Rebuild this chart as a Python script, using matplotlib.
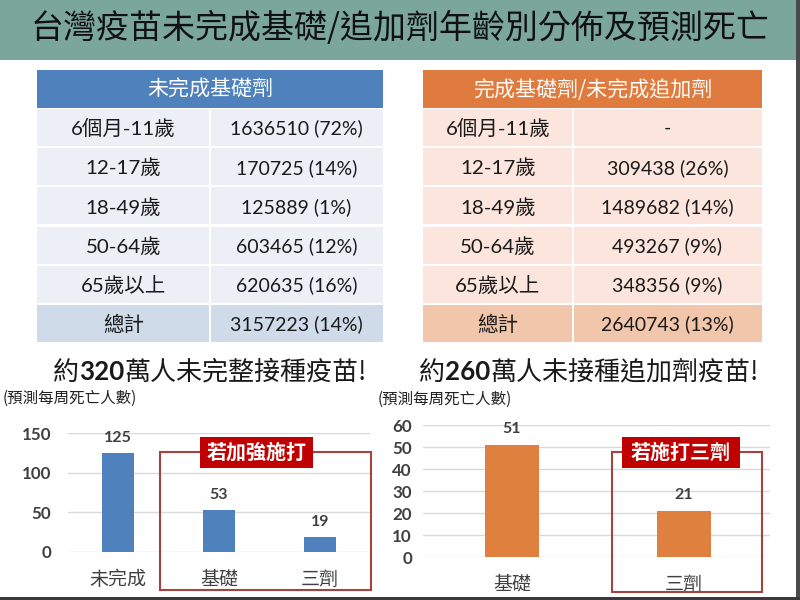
import matplotlib
matplotlib.use("Agg")
import matplotlib.pyplot as plt
from matplotlib.patches import Rectangle

CJK = 'Noto Sans CJK TC'
LAT = ['Lato', CJK]
plt.rcParams['font.family'] = [CJK, 'DejaVu Sans']

# ---------------- data ----------------
title = '台灣疫苗未完成基礎/追加劑年齡別分佈及預測死亡'
age_groups = ['6個月-11歲', '12-17歲', '18-49歲', '50-64歲', '65歲以上']
total_label = '總計'

left_header = '未完成基礎劑'
left_counts = [1636510, 170725, 125889, 603465, 620635]
left_pcts = [72, 14, 1, 12, 16]
left_total = 3157223
left_total_pct = 14

right_header = '完成基礎劑/未完成追加劑'
right_counts = [None, 309438, 1489682, 493267, 348356]
right_pcts = [None, 26, 14, 9, 9]
right_total = 2640743
right_total_pct = 13

left_sub = ('約', '320', '萬人未完整接種疫苗!')
right_sub = ('約', '260', '萬人未接種追加劑疫苗!')
ylabel_note = '(預測每周死亡人數)'

left_cats = ['未完成', '基礎', '三劑']
left_vals = [125, 53, 19]
left_ticks = [0, 50, 100, 150]
left_box_label = '若加強施打'

right_cats = ['基礎', '三劑']
right_vals = [51, 21]
right_ticks = [0, 10, 20, 30, 40, 50, 60]
right_box_label = '若施打三劑'

# ---------------- figure ----------------
fig = plt.figure(figsize=(8, 6), dpi=100)
fig.patch.set_facecolor('white')

bg = fig.add_axes([0, 0, 1, 1], zorder=0)
bg.set_xlim(0, 800); bg.set_ylim(600, 0); bg.axis('off')

def pt(px):
    return px * 0.72

# title band
bg.add_patch(Rectangle((0, 0), 796, 60, facecolor='#7ba79b', edgecolor='none'))
bg.text(400, 29, title, ha='center', va='center', fontsize=pt(33), color='#111111',
        fontweight='medium')

# frame edges
bg.add_patch(Rectangle((796, 0), 4, 600, facecolor='#4a4a4a', edgecolor='none'))
bg.add_patch(Rectangle((0, 597), 800, 3, facecolor='#3a3a3a', edgecolor='none'))

def fmt(c, p):
    if c is None:
        return '-'
    return f'{c} ({p}%)'

def draw_table(x0, xm, x1, hdr, counts, pcts, tot, totp, hcol, rcol, tcol):
    top, hb = 70, 108
    rh = (343 - hb) / 6
    bg.add_patch(Rectangle((x0, top), x1 - x0, hb - top, facecolor=hcol, edgecolor='none'))
    bg.text((x0 + x1) / 2, (top + hb) / 2 + 1, hdr, ha='center', va='center',
            fontsize=pt(21), color='white')
    rows = list(zip(age_groups, [fmt(c, p) for c, p in zip(counts, pcts)]))
    rows.append((total_label, fmt(tot, totp)))
    for i, (a, v) in enumerate(rows):
        y = hb + i * rh
        col = tcol if i == len(rows) - 1 else rcol
        bg.add_patch(Rectangle((x0, y + 1), xm - x0 - 1, rh - 2, facecolor=col, edgecolor='none'))
        bg.add_patch(Rectangle((xm + 1, y + 1), x1 - xm - 1, rh - 2, facecolor=col, edgecolor='none'))
        bg.text((x0 + xm) / 2, y + rh / 2 + 1, a, ha='center', va='center',
                fontsize=pt(20.5), color='#1a1a1a', family=LAT)
        bg.text((xm + x1) / 2, y + rh / 2 + 1, v, ha='center', va='center',
                fontsize=pt(19.5), color='#1a1a1a', family=LAT)

draw_table(37, 210, 383, left_header, left_counts, left_pcts, left_total, left_total_pct,
           '#4f81bd', '#eceff5', '#cfdbe9')
draw_table(423, 573, 762, right_header, right_counts, right_pcts, right_total, right_total_pct,
           '#e07b3f', '#fbe5dc', '#f2c6ab')

# subtitles with bold numbers
renderer = fig.canvas.get_renderer()
def mixed(cx, cy, parts, size):
    styles = [dict(family=[CJK], fontweight='normal'),
              dict(family=['Lato', CJK], fontweight='bold'),
              dict(family=[CJK], fontweight='normal')]
    texts = []
    for p, s in zip(parts, styles):
        t = bg.text(0, cy, p, ha='left', va='center', fontsize=pt(size), color='#1a1a1a', **s)
        texts.append(t)
    widths = [t.get_window_extent(renderer).width for t in texts]
    x = cx - sum(widths) / 2
    for t, w in zip(texts, widths):
        t.set_x(x)
        x += w

mixed(210, 372, left_sub, 26)
mixed(589, 372, right_sub, 26)

bg.text(3, 398, ylabel_note, ha='left', va='center', fontsize=pt(15.5), color='#222222')
bg.text(378, 399, ylabel_note, ha='left', va='center', fontsize=pt(15.5), color='#222222')

# ---------------- bar charts ----------------
def chart(rect, cats, vals, ticks, xlim, color, pad_tick, pad_cat):
    ax = fig.add_axes(rect, zorder=1)
    ax.set_facecolor('none')
    x = list(range(len(cats)))
    bars = ax.bar(x, vals, width=0.31, color=color, zorder=3)
    ax.bar_label(bars, padding=6, fontsize=pt(16), fontweight='bold', color='#404040',
                 family=['Lato', CJK])
    ax.set_xlim(*xlim)
    ax.set_ylim(ticks[0], ticks[-1])
    ax.set_yticks(ticks)
    ax.set_xticks(x)
    ax.set_xticklabels(cats, fontsize=pt(19), color='#404040')
    for lab in ax.get_yticklabels():
        lab.set_fontweight('bold'); lab.set_fontsize(pt(17)); lab.set_color('#404040')
        lab.set_family(['Lato', CJK])
    ax.tick_params(axis='both', length=0)
    ax.tick_params(axis='y', pad=pad_tick)
    ax.tick_params(axis='x', pad=pad_cat)
    ax.grid(axis='y', color='#d9d9d9', linewidth=1, zorder=0)
    ax.set_axisbelow(True)
    for s in ax.spines.values():
        s.set_visible(False)
    return ax

chart([68 / 800, 48 / 600, 302 / 800, 119 / 600], left_cats, left_vals, left_ticks,
      (-0.495, 2.495), '#4f81bd', 12, 12)
chart([423 / 800, 43 / 600, 347 / 800, 132 / 600], right_cats, right_vals, right_ticks,
      (-0.517, 1.5), '#e0803f', 8, 12)

# ---------------- red boxes ----------------
top = fig.add_axes([0, 0, 1, 1], zorder=5)
top.set_xlim(0, 800); top.set_ylim(600, 0); top.axis('off')
top.patch.set_alpha(0)

def red_box(bx0, bx1, by0, by1, lx0, lx1, label):
    top.add_patch(Rectangle((bx0, by0), bx1 - bx0, by1 - by0, facecolor='none',
                            edgecolor='#a5443f', linewidth=1.5))
    top.add_patch(Rectangle((lx0, 437), lx1 - lx0, 31, facecolor='#c00000', edgecolor='none'))
    top.text((lx0 + lx1) / 2, 452.5, label, ha='center', va='center', fontsize=pt(20),
             color='white', fontweight='bold')

red_box(160, 371, 452, 590, 200, 313, left_box_label)
red_box(612, 762, 452, 592, 622, 740, right_box_label)

fig.savefig('out.png', dpi=100)
